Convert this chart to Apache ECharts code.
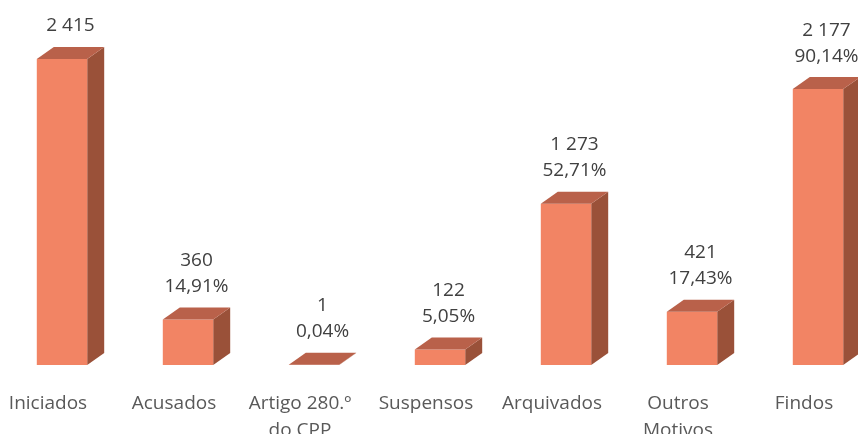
<!doctype html>
<html lang="pt">
<head>
<meta charset="UTF-8"/>
<title>Inquéritos</title>
<script src="https://cdn.jsdelivr.net/npm/echarts@6/dist/echarts.min.js"></script>
<style>
  html, body { margin: 0; padding: 0; background: #fff; }
  #main { width: 858px; height: 434px; }
</style>
</head>
<body>
<div id="main"></div>
<script type="text/javascript">
var categories = ['Iniciados', 'Acusados', 'Artigo 280.º\ndo CPP', 'Suspensos', 'Arquivados', 'Outros\nMotivos', 'Findos'];
var values = [2415, 360, 1, 122, 1273, 421, 2177];
var percents = [null, 14.91, 0.04, 5.05, 52.71, 17.43, 90.14];

// cores das faces
var frontColor = '#F28464';
var topColor = '#B9614A';
var sideColor = '#9A5139';
var depthX = 17, depthY = -12;

function fmtNum(v) {
  return String(v).replace(/\B(?=(\d{3})+(?!\d))/g, ' ');
}
function fmtPct(p) {
  return p.toFixed(2).replace('.', ',') + '%';
}

var myChart = echarts.init(document.getElementById('main'));

function renderBar(params, api) {
  var idx = api.value(0);
  var base = api.coord([idx, 0]);
  var top = api.coord([idx, api.value(1)]);
  var w = api.size([1, 0])[0] * 0.4;
  var x0 = base[0] - w / 2, x1 = base[0] + w / 2;
  var y0 = base[1], y1 = top[1];
  var label = fmtNum(values[idx]);
  if (percents[idx] !== null) label += '\n' + fmtPct(percents[idx]);
  return {
    type: 'group',
    children: [
      {
        type: 'polygon',
        shape: { points: [[x1, y0], [x1 + depthX, y0 + depthY], [x1 + depthX, y1 + depthY], [x1, y1]] },
        style: { fill: sideColor }
      },
      {
        type: 'rect',
        shape: { x: x0, y: y1, width: w, height: y0 - y1 },
        style: { fill: frontColor }
      },
      {
        type: 'polygon',
        shape: { points: [[x0, y1], [x1, y1], [x1 + depthX, y1 + depthY], [x0 + depthX, y1 + depthY]] },
        style: { fill: topColor }
      },
      {
        type: 'text',
        style: {
          text: label,
          x: base[0] + depthX / 2,
          y: y1 + depthY - 8,
          align: 'center',
          verticalAlign: 'bottom',
          fontSize: 19,
          fontFamily: 'Open Sans',
          lineHeight: 26,
          fill: '#404040'
        }
      }
    ]
  };
}

var option = {
  animation: false,
  grid: { left: -1, width: 882, top: 0, bottom: 69, outerBoundsMode: 'none', containLabel: false },
  xAxis: {
    type: 'category',
    data: categories,
    axisLine: { show: false },
    axisTick: { show: false },
    axisLabel: {
      interval: 0,
      margin: 25,
      fontSize: 19,
      fontFamily: 'Open Sans',
      color: '#595959',
      lineHeight: 27,
      verticalAlign: 'top',
      padding: [0, 28, 0, 0]
    }
  },
  yAxis: {
    type: 'value',
    min: 0,
    max: 2880,
    show: false,
    splitLine: { show: false }
  },
  series: [{
    type: 'custom',
    renderItem: renderBar,
    data: values.map(function (v, i) { return [i, v]; })
  }]
};

myChart.setOption(option);
</script>
</body>
</html>
